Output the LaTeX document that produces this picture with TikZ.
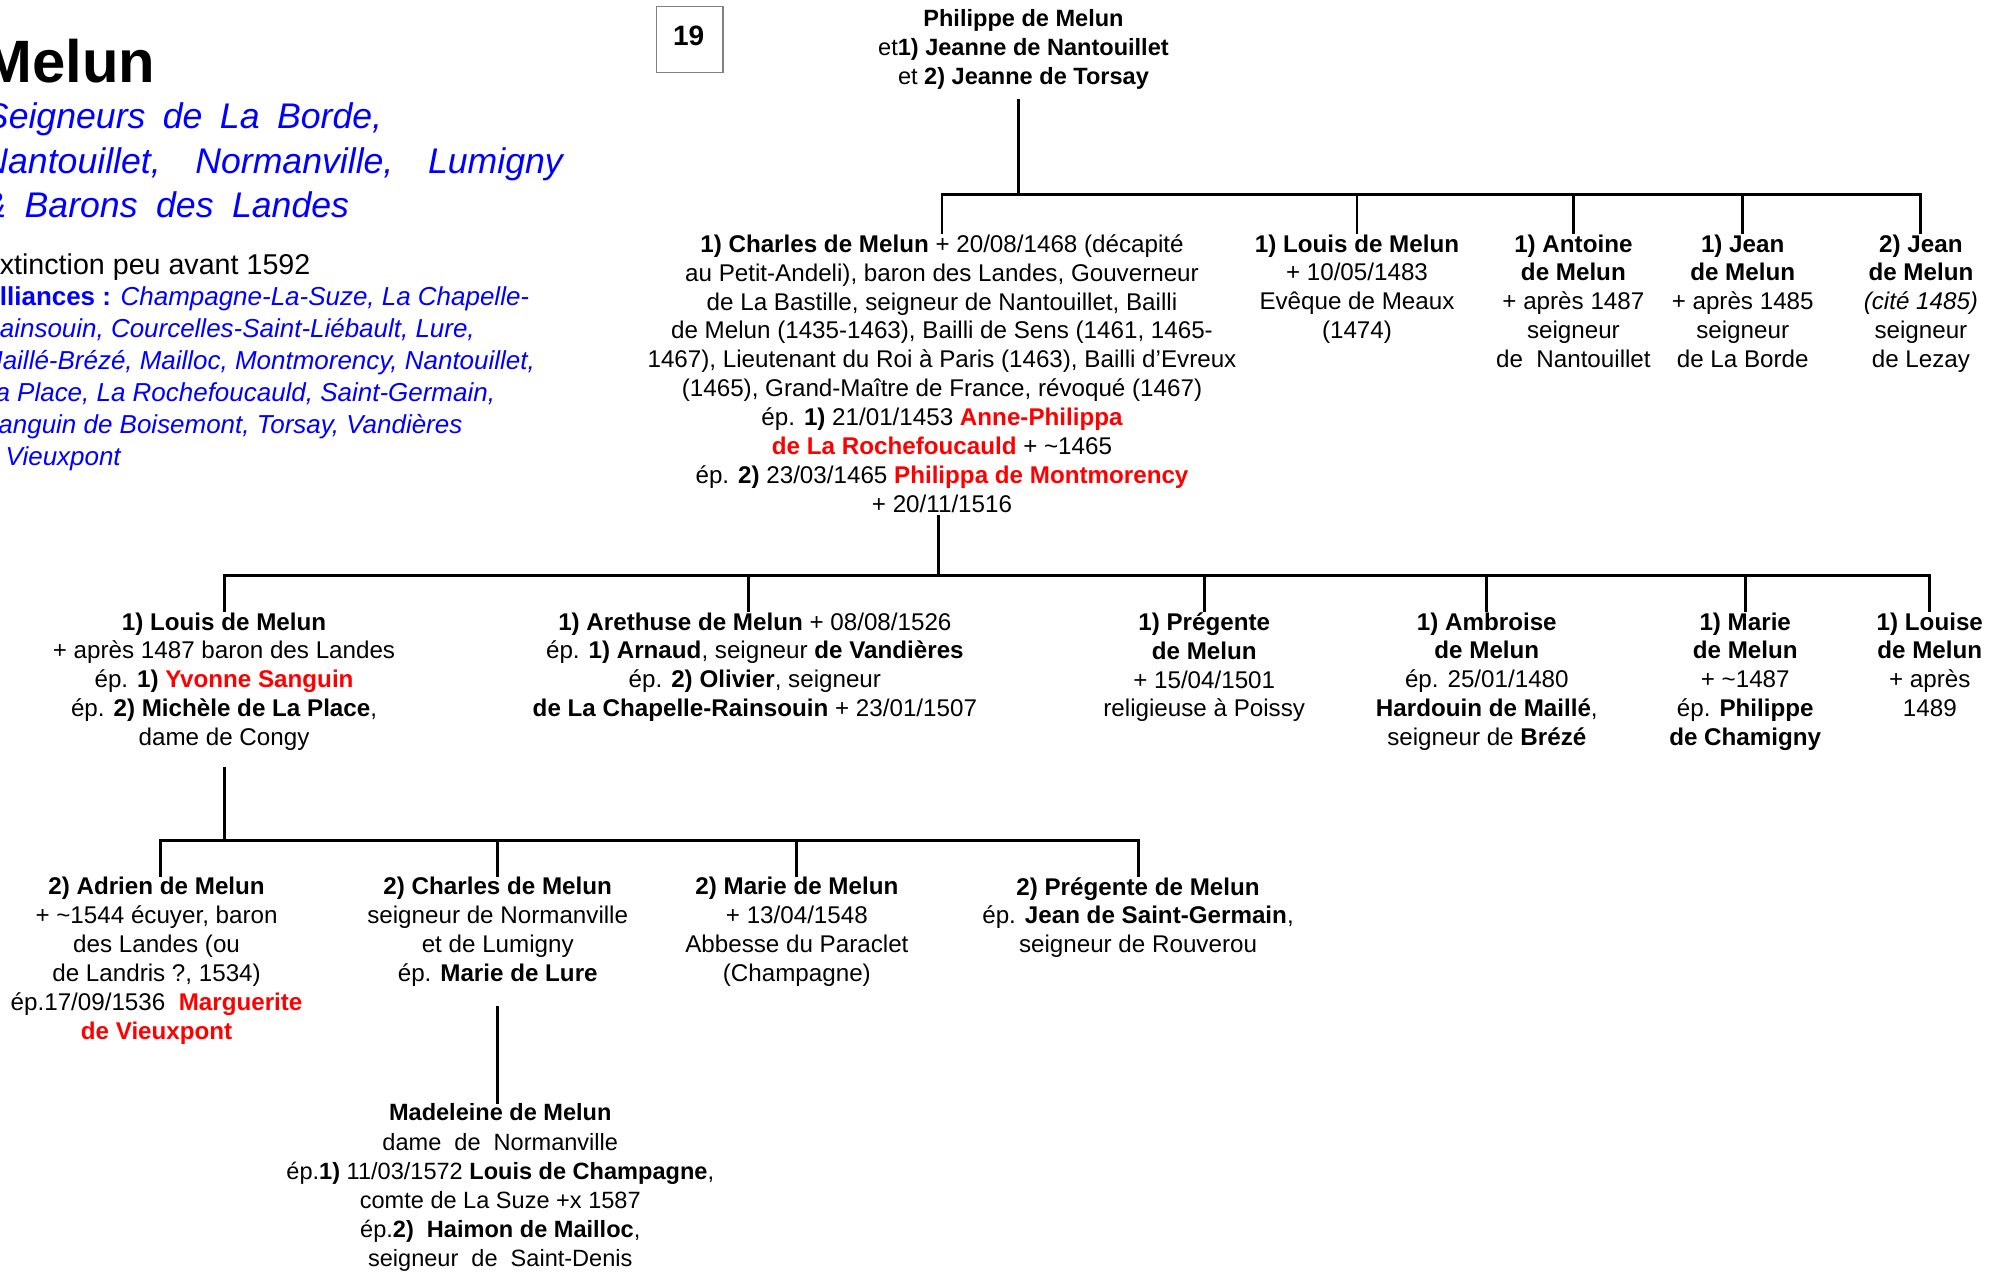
\documentclass[tikz,border=0pt]{standalone}
\usepackage{fontspec}
\setmainfont{Liberation Sans}
\definecolor{tblue}{RGB}{0,0,255}
\definecolor{tred}{RGB}{255,0,0}
\newcommand{\melred}[1]{{\color{tred}\bfseries #1}}
\tikzset{
  person/.style={align=center, inner sep=0pt, anchor=north, font=\fontsize{19}{22.7}\selectfont},
  wideperson/.style={align=center, inner sep=0pt, anchor=north, font=\fontsize{18.5}{22.8}\selectfont},
  subtitle/.style={anchor=base west, inner sep=0pt, text=tblue, font=\fontsize{28}{35}\selectfont\itshape},
  conn/.style={line width=2.3pt, black},
}
\begin{document}
\begin{tikzpicture}[x=1pt,y=-1pt]
\useasboundingbox (0,0) rectangle (1568,1000);
\fill[white] (0,0) rectangle (1568,1000);
\clip (0,0) rectangle (1568,1000);

% left header
\node[anchor=base west, inner sep=0pt, font=\fontsize{47}{54}\selectfont\bfseries] (title) at (-14,65) {Melun};
\node[subtitle] (sub1) at (-12,101) {\makebox[312pt][s]{Seigneurs de La Borde,}};
\node[subtitle] (sub2) at (-14,136) {\makebox[456pt][s]{Nantouillet, Normanville, Lumigny}};
\node[subtitle] (sub3) at (-14,171) {\makebox[288pt][s]{\& Barons des Landes}};
\node[anchor=base east, inner sep=0pt, font=\fontsize{22.5}{25}\selectfont] (ext) at (244,216) {Extinction peu avant 1592};
\node[anchor=north west, inner sep=0pt, align=left, text=tblue, font=\fontsize{20.4}{25.2}\selectfont\itshape] (all) at (-15,225)
 {{\upshape\bfseries Alliances :} Champagne-La-Suze, La Chapelle-\\
  Rainsouin, Courcelles-Saint-Liébault, Lure,\\
  Maillé-Brézé, Mailloc, Montmorency, Nantouillet,\\
  La Place, La Rochefoucauld, Saint-Germain,\\
  Sanguin de Boisemont, Torsay, Vandières\\
  \& Vieuxpont};

% page number box
\node[draw=gray, line width=1pt, minimum width=52pt, minimum height=52pt, inner sep=0pt] (num) at (542,31) {};
\node[inner sep=0pt, font=\fontsize{22}{24}\selectfont\bfseries] (numtxt) at (541,28) {19};

% generation 1
\node[wideperson] (phil) at (804,7) {\textbf{Philippe de Melun}\\ et\textbf{1) Jeanne de Nantouillet}\\ et \textbf{2) Jeanne de Torsay}};

% generation 2
\node[person] (charles) at (740,184) {\textbf{1) Charles de Melun} + 20/08/1468 (décapité\\ au Petit-Andeli), baron des Landes, Gouverneur\\ de La Bastille, seigneur de Nantouillet, Bailli\\ de Melun (1435-1463), Bailli de Sens (1461, 1465-\\ 1467), Lieutenant du Roi à Paris (1463), Bailli d’Evreux\\ (1465), Grand-Maître de France, révoqué (1467)\\ ép. \textbf{1)} 21/01/1453 \melred{Anne-Philippa}\\ \melred{de La Rochefoucauld} + \textasciitilde1465\\ ép. \textbf{2)} 23/03/1465 \melred{Philippa de Montmorency}\\ + 20/11/1516};
\node[person] (louisA) at (1066,184) {\textbf{1) Louis de Melun}\\ + 10/05/1483\\ Evêque de Meaux\\ (1474)};
\node[person] (antoine) at (1236,184) {\textbf{1) Antoine}\\ \textbf{de Melun}\\ + après 1487\\ seigneur\\ de\ \ Nantouillet};
\node[person] (jeanA) at (1369,184) {\textbf{1) Jean}\\ \textbf{de Melun}\\ + après 1485\\ seigneur\\ de La Borde};
\node[person] (jeanB) at (1509,184) {\textbf{2) Jean}\\ \textbf{de Melun}\\ \textit{(cité 1485)}\\ seigneur\\ de Lezay};

% generation 3
\node[person] (louisB) at (176,481) {\textbf{1) Louis de Melun}\\ + après 1487 baron des Landes\\ ép. \textbf{1)} \melred{Yvonne Sanguin}\\ ép. \textbf{2) Michèle de La Place},\\ dame de Congy};
\node[person] (arethuse) at (593,481) {\textbf{1) Arethuse de Melun} + 08/08/1526\\ ép. \textbf{1) Arnaud}, seigneur \textbf{de Vandières}\\ ép. \textbf{2) Olivier}, seigneur\\ \textbf{de La Chapelle-Rainsouin} + 23/01/1507};
\node[person] (pregA) at (946,481) {\textbf{1) Prégente}\\ \textbf{de Melun}\\ + 15/04/1501\\ religieuse à Poissy};
\node[person] (ambroise) at (1168,481) {\textbf{1) Ambroise}\\ \textbf{de Melun}\\ ép. 25/01/1480\\ \textbf{Hardouin de Maillé},\\ seigneur de \textbf{Brézé}};
\node[person] (marieA) at (1371,481) {\textbf{1) Marie}\\ \textbf{de Melun}\\ + \textasciitilde1487\\ ép. \textbf{Philippe}\\ \textbf{de Chamigny}};
\node[person] (louise) at (1516,481) {\textbf{1) Louise}\\ \textbf{de Melun}\\ + après\\ 1489};

% generation 4
\node[person] (adrien) at (123,689) {\textbf{2) Adrien de Melun}\\ + \textasciitilde1544 écuyer, baron\\ des Landes (ou\\ de Landris ?, 1534)\\ ép.17/09/1536\ \ \melred{Marguerite}\\ \melred{de Vieuxpont}};
\node[person] (charlesB) at (391,689) {\textbf{2) Charles de Melun}\\ seigneur de Normanville\\ et de Lumigny\\ ép. \textbf{Marie de Lure}};
\node[person] (marieB) at (626,689) {\textbf{2) Marie de Melun}\\ + 13/04/1548\\ Abbesse du Paraclet\\ (Champagne)};
\node[person] (pregB) at (894,689) {\textbf{2) Prégente de Melun}\\ ép. \textbf{Jean de Saint-Germain},\\ seigneur de Rouverou};

% generation 5
\node[wideperson] (madeleine) at (393,867) {\textbf{Madeleine de Melun}\\ dame\ \ de\ \ Normanville\\ ép.\textbf{1)} 11/03/1572 \textbf{Louis de Champagne},\\ comte de La Suze +x 1587\\ ép.\textbf{2)\ \ Haimon de Mailloc},\\ seigneur\ \ de\ \ Saint-Denis};

% junction coordinates
\coordinate (j1) at (800,153);
\coordinate (j2) at (737,452);
\coordinate (j3) at (176,660);
\coordinate (p1) at (800,78);

% connectors gen1 -> gen2
\draw[conn] (p1) -- (j1);
\draw[conn] (charles.north) -- (charles.north |- j1) -- (jeanB.north |- j1) -- (jeanB.north);
\draw[conn] (louisA.north) -- (louisA.north |- j1);
\draw[conn] (antoine.north) -- (antoine.north |- j1);
\draw[conn] (jeanA.north) -- (jeanA.north |- j1);

% connectors gen2 -> gen3
\draw[conn] ([yshift=-2pt]charles.south -| j2) -- (j2);
\draw[conn] (louisB.north) -- (louisB.north |- j2) -- (louise.north |- j2) -- (louise.north);
\draw[conn] ([xshift=-5pt]arethuse.north) -- ([xshift=-5pt]arethuse.north |- j2);
\draw[conn] (pregA.north) -- (pregA.north |- j2);
\draw[conn] (ambroise.north) -- (ambroise.north |- j2);
\draw[conn] (marieA.north) -- (marieA.north |- j2);

% connectors gen3 -> gen4
\draw[conn] ([yshift=-13pt]louisB.south) -- (j3);
\draw[conn] ([xshift=3pt]adrien.north) -- ([xshift=3pt]adrien.north |- j3) -- (pregB.north |- j3) -- (pregB.north);
\draw[conn] (charlesB.north) -- (charlesB.north |- j3);
\draw[conn] (marieB.north) -- (marieB.north |- j3);

% connector gen4 -> gen5
\draw[conn] ([yshift=-15pt]charlesB.south) -- (charlesB.south |- madeleine.north);
\end{tikzpicture}
\end{document}
